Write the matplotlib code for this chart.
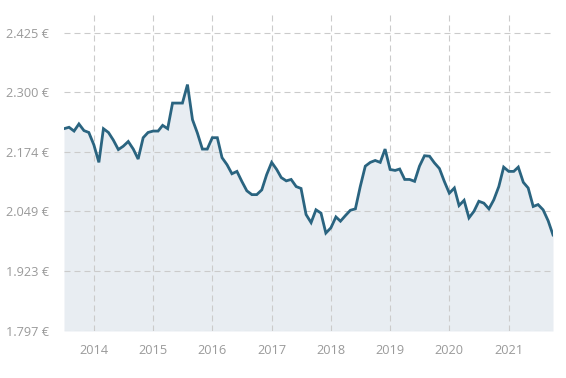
import matplotlib
matplotlib.use("Agg")
import matplotlib.pyplot as plt
import pandas as pd

# Monthly values (EUR), Jul 2013 - Oct 2021
values = [
    2223, 2226, 2218, 2233, 2219, 2215, 2189, 2152, 2223, 2215,
    2199, 2179, 2186, 2196, 2180, 2159, 2204, 2215, 2218, 2218,
    2230, 2223, 2277, 2277, 2277, 2316, 2242, 2214, 2180, 2180,
    2204, 2204, 2162, 2147, 2128, 2133, 2112, 2092, 2084, 2084,
    2094, 2126, 2152, 2137, 2120, 2113, 2116, 2101, 2097, 2042,
    2025, 2052, 2045, 2003, 2014, 2037, 2028, 2040, 2051, 2054,
    2101, 2144, 2152, 2156, 2152, 2180, 2137, 2135, 2138, 2116,
    2116, 2112, 2144, 2166, 2165, 2151, 2139, 2112, 2087, 2098,
    2061, 2072, 2035, 2049, 2070, 2066, 2054, 2073, 2101, 2142,
    2133, 2133, 2142, 2110, 2098, 2059, 2063, 2052, 2029, 1999,
]
dates = pd.date_range("2013-07-01", periods=len(values), freq="MS")

y_ticks = [1797.4, 1923.0, 2048.6, 2174.2, 2299.8, 2425.4]
y_labels = ["1.797 €", "1.923 €", "2.049 €", "2.174 €", "2.300 €", "2.425 €"]
x_years = [2014, 2015, 2016, 2017, 2018, 2019, 2020, 2021]

plt.rcParams['font.family'] = ['Open Sans', 'DejaVu Sans']

fig = plt.figure(figsize=(5.66, 3.78), dpi=100)
ax = fig.add_axes([64/566, 1 - 331/378, (553-64)/566, (331-12)/378])

line_color = "#2a6480"
fill_color = "#e8edf2"
grid_color = "#cbcbcb"
label_color = "#9a9a9a"

ymin = 1796.5
ax.fill_between(dates, values, ymin, color=fill_color, linewidth=0, zorder=0.2)
ax.plot(dates, values, color=line_color, linewidth=2.0, zorder=3,
        solid_joinstyle="miter")

ax.set_xlim(dates[0], dates[-1])
ax.set_ylim(ymin, 2469)

ax.set_yticks(y_ticks)
ax.set_yticklabels(y_labels)
xt = [pd.Timestamp(f"{y}-01-01") for y in x_years]
ax.set_xticks(xt)
ax.set_xticklabels([str(y) for y in x_years])

ax.set_axisbelow(True)
ax.grid(True, color=grid_color, linewidth=0.8, linestyle=(0, (5.4, 3.6)))

for s in ax.spines.values():
    s.set_visible(False)

ax.tick_params(axis="both", length=0, labelsize=9.2, labelcolor=label_color)
ax.tick_params(axis="y", pad=11)
ax.tick_params(axis="x", pad=9)

fig.savefig("out.png", dpi=100)
